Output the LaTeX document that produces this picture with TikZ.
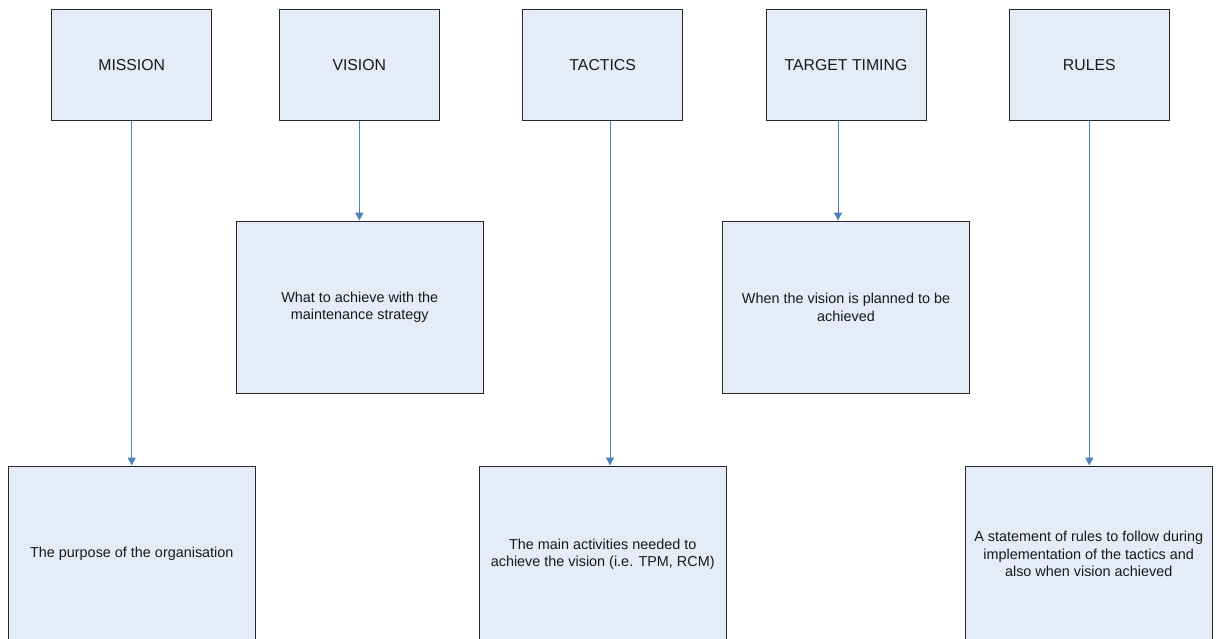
\documentclass[tikz,border=0pt]{standalone}
\usepackage{fontspec}
\setmainfont{Liberation Sans}
\usetikzlibrary{arrows.meta}

\definecolor{boxfill}{RGB}{230,236,247}
\definecolor{boxline}{RGB}{40,40,40}
\definecolor{linkblue}{RGB}{79,129,189}

\tikzset{
  headbox/.style={draw=boxline, fill=boxfill, line width=0.9pt,
    minimum width=160pt, minimum height=111pt, inner sep=0pt,
    font=\fontsize{15.8}{18}\selectfont, text=black!90},
  notebox/.style={draw=boxline, fill=boxfill, line width=0.9pt,
    minimum width=247pt, inner sep=0pt, align=center,
    font=\fontsize{14.4}{17.3}\selectfont, text=black!90},
  link/.style={draw=linkblue, line width=1pt,
    -{Triangle[length=8pt,width=8pt]}}
}

\begin{document}
\begin{tikzpicture}[x=1pt,y=-1pt]
\useasboundingbox (0,0) rectangle (1220,638);
\fill[white] (0,0) rectangle (1220,638);

% headings along the top
\node[headbox] (mis) at (131.7,64.8) {MISSION};
\node[headbox] (vis) at (359.3,64.8) {VISION};
\node[headbox] (tac) at (602.7,64.8) {TACTICS};
\node[headbox] (tgt) at (846,64.8) {TARGET TIMING};
\node[headbox] (rul) at (1089.3,64.8) {RULES};

% middle row of descriptions
\node[notebox, minimum height=172.3pt] (visd) at (359.8,307.2)
  {What to achieve with the\\maintenance strategy};
\node[notebox, minimum height=172.3pt] (tgtd) at (846,307.2)
  {When the vision is planned to be\\achieved};

% bottom row of descriptions (running off the lower edge)
\node[notebox, minimum height=176pt] (misd) at (131.8,554)
  {The purpose of the organisation};
\node[notebox, minimum height=176pt] (tacd) at (602.7,554)
  {The main activities needed to\\achieve the vision (i.e. TPM, RCM)};
\node[notebox, minimum height=176pt] (ruld) at (1088.7,554)
  {A statement of rules to follow during\\implementation of the tactics and\\also when vision achieved};

% connectors
\draw[link] (mis.south) -- (mis.south |- misd.north);
\draw[link] (vis.south) -- (vis.south |- visd.north);
\draw[link] ([xshift=7.3pt]tac.south) -- ([xshift=7.3pt]tacd.north);
\draw[link] ([xshift=-8pt]tgt.south) -- ([xshift=-8pt]tgtd.north);
\draw[link] (rul.south) -- (rul.south |- ruld.north);
\end{tikzpicture}
\end{document}
